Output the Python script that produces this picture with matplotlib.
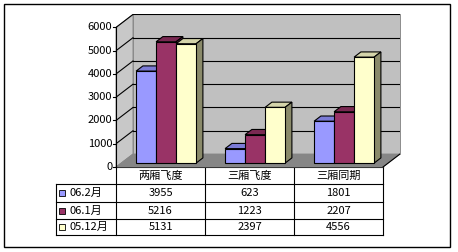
import matplotlib.pyplot as plt
from matplotlib.patches import Polygon, Rectangle
from matplotlib.transforms import blended_transform_factory

plt.rcParams['font.family'] = ['Noto Sans CJK SC', 'DejaVu Sans']

categories = ['两厢飞度', '三厢飞度', '三厢同期']
series_names = ['06.2月', '06.1月', '05.12月']
values_0602 = [3955, 623, 1801]
values_0601 = [5216, 1223, 2207]
values_0512 = [5131, 2397, 4556]
y_ticks = [0, 1000, 2000, 3000, 4000, 5000, 6000]

series = [values_0602, values_0601, values_0512]
face_colors = ['#9999FF', '#993366', '#FFFFCC']
top_colors = ['#7b7bd6', '#7a2952', '#d4d4aa']
side_colors = ['#5c5c99', '#5c1f3d', '#8a8a6a']

W, H = 458, 252
fig = plt.figure(figsize=(W / 100, H / 100), dpi=100)

# overlay in pixel units for the frame and the table
over = fig.add_axes([0, 0, 1, 1])
over.set_xlim(0, W)
over.set_ylim(H, 0)
over.axis('off')

# main chart axes: x = category units, y = value units
px_per_cat = 89.0
px_per_val = 23.26 / 1000
dx_px, dy_px = 17.0, 13.0
DX = dx_px / px_per_cat
DY = dy_px / px_per_val
ymax = 6000
x0_px, y0_px = 116.0, 167.0
ax_w = 3 * px_per_cat + dx_px
ax_h = ymax * px_per_val + dy_px
ax = fig.add_axes([x0_px / W, (H - y0_px) / H, ax_w / W, ax_h / H])
ax.set_xlim(0, 3 + DX)
ax.set_ylim(0, ymax + DY)
ax.axis('off')

def poly(pts, fc, ec='black', lw=0.8, z=1):
    ax.add_patch(Polygon(pts, closed=True, facecolor=fc, edgecolor=ec,
                         linewidth=lw, zorder=z, clip_on=False))

# walls and floor
poly([(0, 0), (DX, DY), (DX, ymax + DY), (0, ymax)], '#c8c8c8', ec='#808080', lw=0.6)
poly([(DX, DY), (3 + DX, DY), (3 + DX, ymax + DY), (DX, ymax + DY)], '#c0c0c0', ec='#808080', lw=0.6)
poly([(0, 0), (3, 0), (3 + DX, DY), (DX, DY)], '#868686', ec='#868686', lw=0.6)
ax.plot([3, 3 + DX], [0, DY], color='black', lw=0.8, zorder=2)

for v in y_ticks[1:]:
    ax.plot([DX, 3 + DX], [v + DY, v + DY], color='black', lw=0.8, zorder=2)
    ax.plot([0, DX], [v, v + DY], color='black', lw=0.8, zorder=2)

# value axis
ax.plot([0, 0], [0, ymax], color='black', lw=0.8, zorder=3, clip_on=False)
for v in y_ticks:
    ax.plot([-0.03, 0], [v, v], color='black', lw=0.8, zorder=3, clip_on=False)
    ax.text(-0.04, v, str(v), ha='right', va='center', fontsize=8, zorder=3)

# 3D bars
gap = 15.0 / px_per_cat
bw = 20.0 / px_per_cat
d_front, d_back = 0.3, 0.7
for i in range(len(categories)):
    for j, vals in enumerate(series):
        v = vals[i]
        x_l = i + gap + j * bw + d_front * DX
        x_r = x_l + bw
        yb = d_front * DY
        ddx = (d_back - d_front) * DX
        ddy = (d_back - d_front) * DY
        z = 4 + j
        poly([(x_l, yb + v), (x_r, yb + v), (x_r + ddx, yb + v + ddy), (x_l + ddx, yb + v + ddy)],
             top_colors[j], z=z)
        poly([(x_r, yb), (x_r + ddx, yb + ddy), (x_r + ddx, yb + v + ddy), (x_r, yb + v)],
             side_colors[j], z=z)
        poly([(x_l, yb), (x_r, yb), (x_r, yb + v), (x_l, yb + v)], face_colors[j], z=z)

# outer frame
over.add_patch(Rectangle((4, 4), 446, 243, fill=False, edgecolor='black', lw=1.0))

# data table, columns aligned with category units
tr = blended_transform_factory(ax.transData, over.transData)
rows_y = [167, 184, 202, 219, 235]
leg_left = 56
for k in range(4):
    over.plot([k, k], [rows_y[0], rows_y[-1]], color='black', lw=0.8, transform=tr)
over.plot([0, 3], [rows_y[0], rows_y[0]], color='black', lw=0.8, transform=tr)
over.plot([leg_left, leg_left], [rows_y[1], rows_y[-1]], color='black', lw=0.8)
for ry in rows_y[1:]:
    over.plot([leg_left, 383], [ry, ry], color='black', lw=0.8)

for i, name in enumerate(categories):
    over.text(i + 0.5, (rows_y[0] + rows_y[1]) / 2, name, ha='center', va='center',
              fontsize=8, transform=tr)
    for j, vals in enumerate(series):
        over.text(i + 0.5, (rows_y[j + 1] + rows_y[j + 2]) / 2, str(vals[i]),
                  ha='center', va='center', fontsize=8, transform=tr)

for j, name in enumerate(series_names):
    cy = (rows_y[j + 1] + rows_y[j + 2]) / 2
    over.add_patch(Rectangle((59, cy - 3), 6, 6, facecolor=face_colors[j],
                             edgecolor='black', lw=0.6))
    over.text(69, cy, name, ha='left', va='center', fontsize=8)

fig.savefig('out.png', dpi=100)
